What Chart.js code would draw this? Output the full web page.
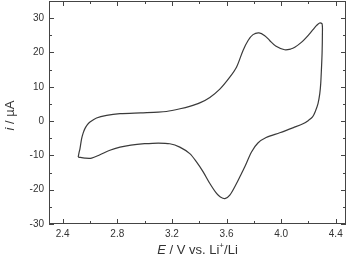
<!DOCTYPE html>
<html>
<head>
<meta charset="utf-8">
<script src="https://cdn.jsdelivr.net/npm/chart.js@4"></script>
<style>
  html, body { margin: 0; padding: 0; background: #fff; }
  #wrap { width: 350px; height: 261px; }
</style>
</head>
<body>
<div id="wrap"><canvas id="cv"></canvas></div>
<script>
// potential (V vs. Li+/Li) and current (µA), one closed CV loop
const potential = [
  2.514, 2.520, 2.527, 2.539, 2.55, 2.563, 2.58, 2.60, 2.648, 2.722, 2.82, 2.97, 3.10, 3.16, 3.26, 3.33, 3.404, 3.478, 3.551,
  3.624, 3.673, 3.721, 3.758, 3.794, 3.838, 3.88, 3.916, 3.96, 4.026, 4.07, 4.10, 4.15, 4.185, 4.23, 4.258, 4.282, 4.30,
  4.302, 4.300, 4.295, 4.290, 4.283, 4.27, 4.25, 4.23, 4.20, 4.16, 4.09, 3.99, 3.89, 3.83, 3.783, 3.733, 3.697, 3.673, 3.624,
  3.588, 3.555, 3.527, 3.478, 3.429, 3.38, 3.331, 3.258, 3.185, 3.10, 3.00, 2.90, 2.82, 2.746, 2.673, 2.612, 2.563, 2.514];
const current = [
  -10.5, -9.2, -8.0, -5.1, -3.5, -2.2, -1.1, -0.3, 0.9, 1.66, 2.15, 2.4, 2.6, 2.8, 3.6, 4.3, 5.3, 6.9, 9.3,
  12.8, 15.7, 20.6, 23.5, 25.2, 25.7, 24.9, 23.5, 21.9, 20.8, 21.0, 21.5, 23.0, 24.4, 26.5, 27.8, 28.6, 28.3,
  25.0, 20.0, 15.0, 11.0, 8.0, 5.1, 2.8, 1.2, 0.2, -0.8, -1.9, -3.4, -4.8, -6.4, -9.0, -13.4, -16.3, -18.2, -21.6,
  -22.6, -22.1, -21.1, -18.2, -14.8, -11.9, -9.5, -7.6, -6.6, -6.4, -6.6, -7.0, -7.6, -8.5, -9.8, -10.8, -10.8, -10.5];

const xTicks = [2.4, 2.8, 3.2, 3.6, 4.0, 4.4];
const xMinor = [2.6, 3.0, 3.4, 3.8, 4.2];
const yTicks = [-30, -20, -10, 0, 10, 20, 30];
const yMinor = [-25, -15, -5, 5, 15, 25];

const ink = "#333";
const fontFam = "'Liberation Sans', Arial, sans-serif";

// draw a run of text pieces (italic / superscript) centred at (cx, cy)
function drawPieces(ctx, pieces, cx, cy, size) {
    const fontOf = (p) => (p.italic ? "italic " : "") + (p.sup ? size * 0.62 : size) + "px " + fontFam;
    let total = 0;
    pieces.forEach((p) => { ctx.font = fontOf(p); total += ctx.measureText(p.t).width; });
    let x = cx - total / 2;
    ctx.textBaseline = "middle";
    ctx.textAlign = "left";
    pieces.forEach((p) => {
        ctx.font = fontOf(p);
        ctx.fillText(p.t, x, p.sup ? cy - size * 0.35 : cy);
        x += ctx.measureText(p.t).width;
    });
}

const framePlugin = {
    id: "frame",
    afterDraw(chart) {
        const { ctx, chartArea: a, scales } = chart;
        const xs = scales.x, ys = scales.y;
        ctx.save();
        ctx.strokeStyle = "#444";
        ctx.lineWidth = 1;
        ctx.strokeRect(a.left + 0.5, a.top + 0.5, a.right - a.left - 1, a.bottom - a.top - 1);
        ctx.beginPath();
        const xt = (v, len) => {
            const px = Math.round(xs.getPixelForValue(v)) + 0.5;
            ctx.moveTo(px, a.bottom); ctx.lineTo(px, a.bottom - len);
            ctx.moveTo(px, a.top); ctx.lineTo(px, a.top + len);
        };
        const yt = (v, len) => {
            const py = Math.round(ys.getPixelForValue(v)) + 0.5;
            ctx.moveTo(a.left, py); ctx.lineTo(a.left + len, py);
            ctx.moveTo(a.right, py); ctx.lineTo(a.right - len, py);
        };
        xTicks.forEach((v) => xt(v, 5));
        xMinor.forEach((v) => xt(v, 3));
        yTicks.forEach((v) => yt(v, 5));
        yMinor.forEach((v) => yt(v, 3));
        ctx.stroke();

        // axis titles
        ctx.fillStyle = ink;
        drawPieces(ctx, [{ t: "E", italic: true }, { t: " / V vs. Li" }, { t: "+", sup: true }, { t: "/Li" }],
            (a.left + a.right) / 2, 250, 13);
        ctx.translate(10, (a.top + a.bottom) / 2 + 3);
        ctx.rotate(-Math.PI / 2);
        drawPieces(ctx, [{ t: "i", italic: true }, { t: " / µA" }], 0, 0, 13);
        ctx.restore();
    }
};

new Chart(document.getElementById("cv"), {
    type: "scatter",
    data: {
        datasets: [{
            data: potential.map((x, i) => ({ x, y: current[i] })),
            showLine: true,
            borderColor: "#3a3a3a",
            borderWidth: 1.2,
            pointRadius: 0,
            tension: 0.3,
            fill: false,
        }],
    },
    options: {
        responsive: true,
        maintainAspectRatio: false,
        animation: false,
        events: [],
        layout: { padding: { top: 1, right: 4, left: 0, bottom: 0 } },
        plugins: { legend: { display: false }, tooltip: { enabled: false } },
        scales: {
            x: {
                type: "linear",
                min: 2.3,
                max: 4.475,
                grid: { display: false, drawTicks: false },
                border: { display: false },
                afterBuildTicks: (s) => { s.ticks = xTicks.map((v) => ({ value: v })); },
                afterFit: (s) => { s.height = 37; s.paddingLeft = 0; s.paddingRight = 0; },
                ticks: {
                    padding: 4,
                    color: ink,
                    font: { family: fontFam, size: 10 },
                    callback: (v) => Number(v).toFixed(1),
                },
            },
            y: {
                type: "linear",
                min: -30,
                max: 35,
                grid: { display: false, drawTicks: false },
                border: { display: false },
                afterBuildTicks: (s) => { s.ticks = yTicks.map((v) => ({ value: v })); },
                afterFit: (s) => { s.width = 49; s.paddingTop = 0; s.paddingBottom = 0; },
                ticks: {
                    padding: 5,
                    color: ink,
                    font: { family: fontFam, size: 10 },
                    callback: (v) => String(v),
                },
            },
        },
    },
    plugins: [framePlugin],
});
</script>
</body>
</html>
